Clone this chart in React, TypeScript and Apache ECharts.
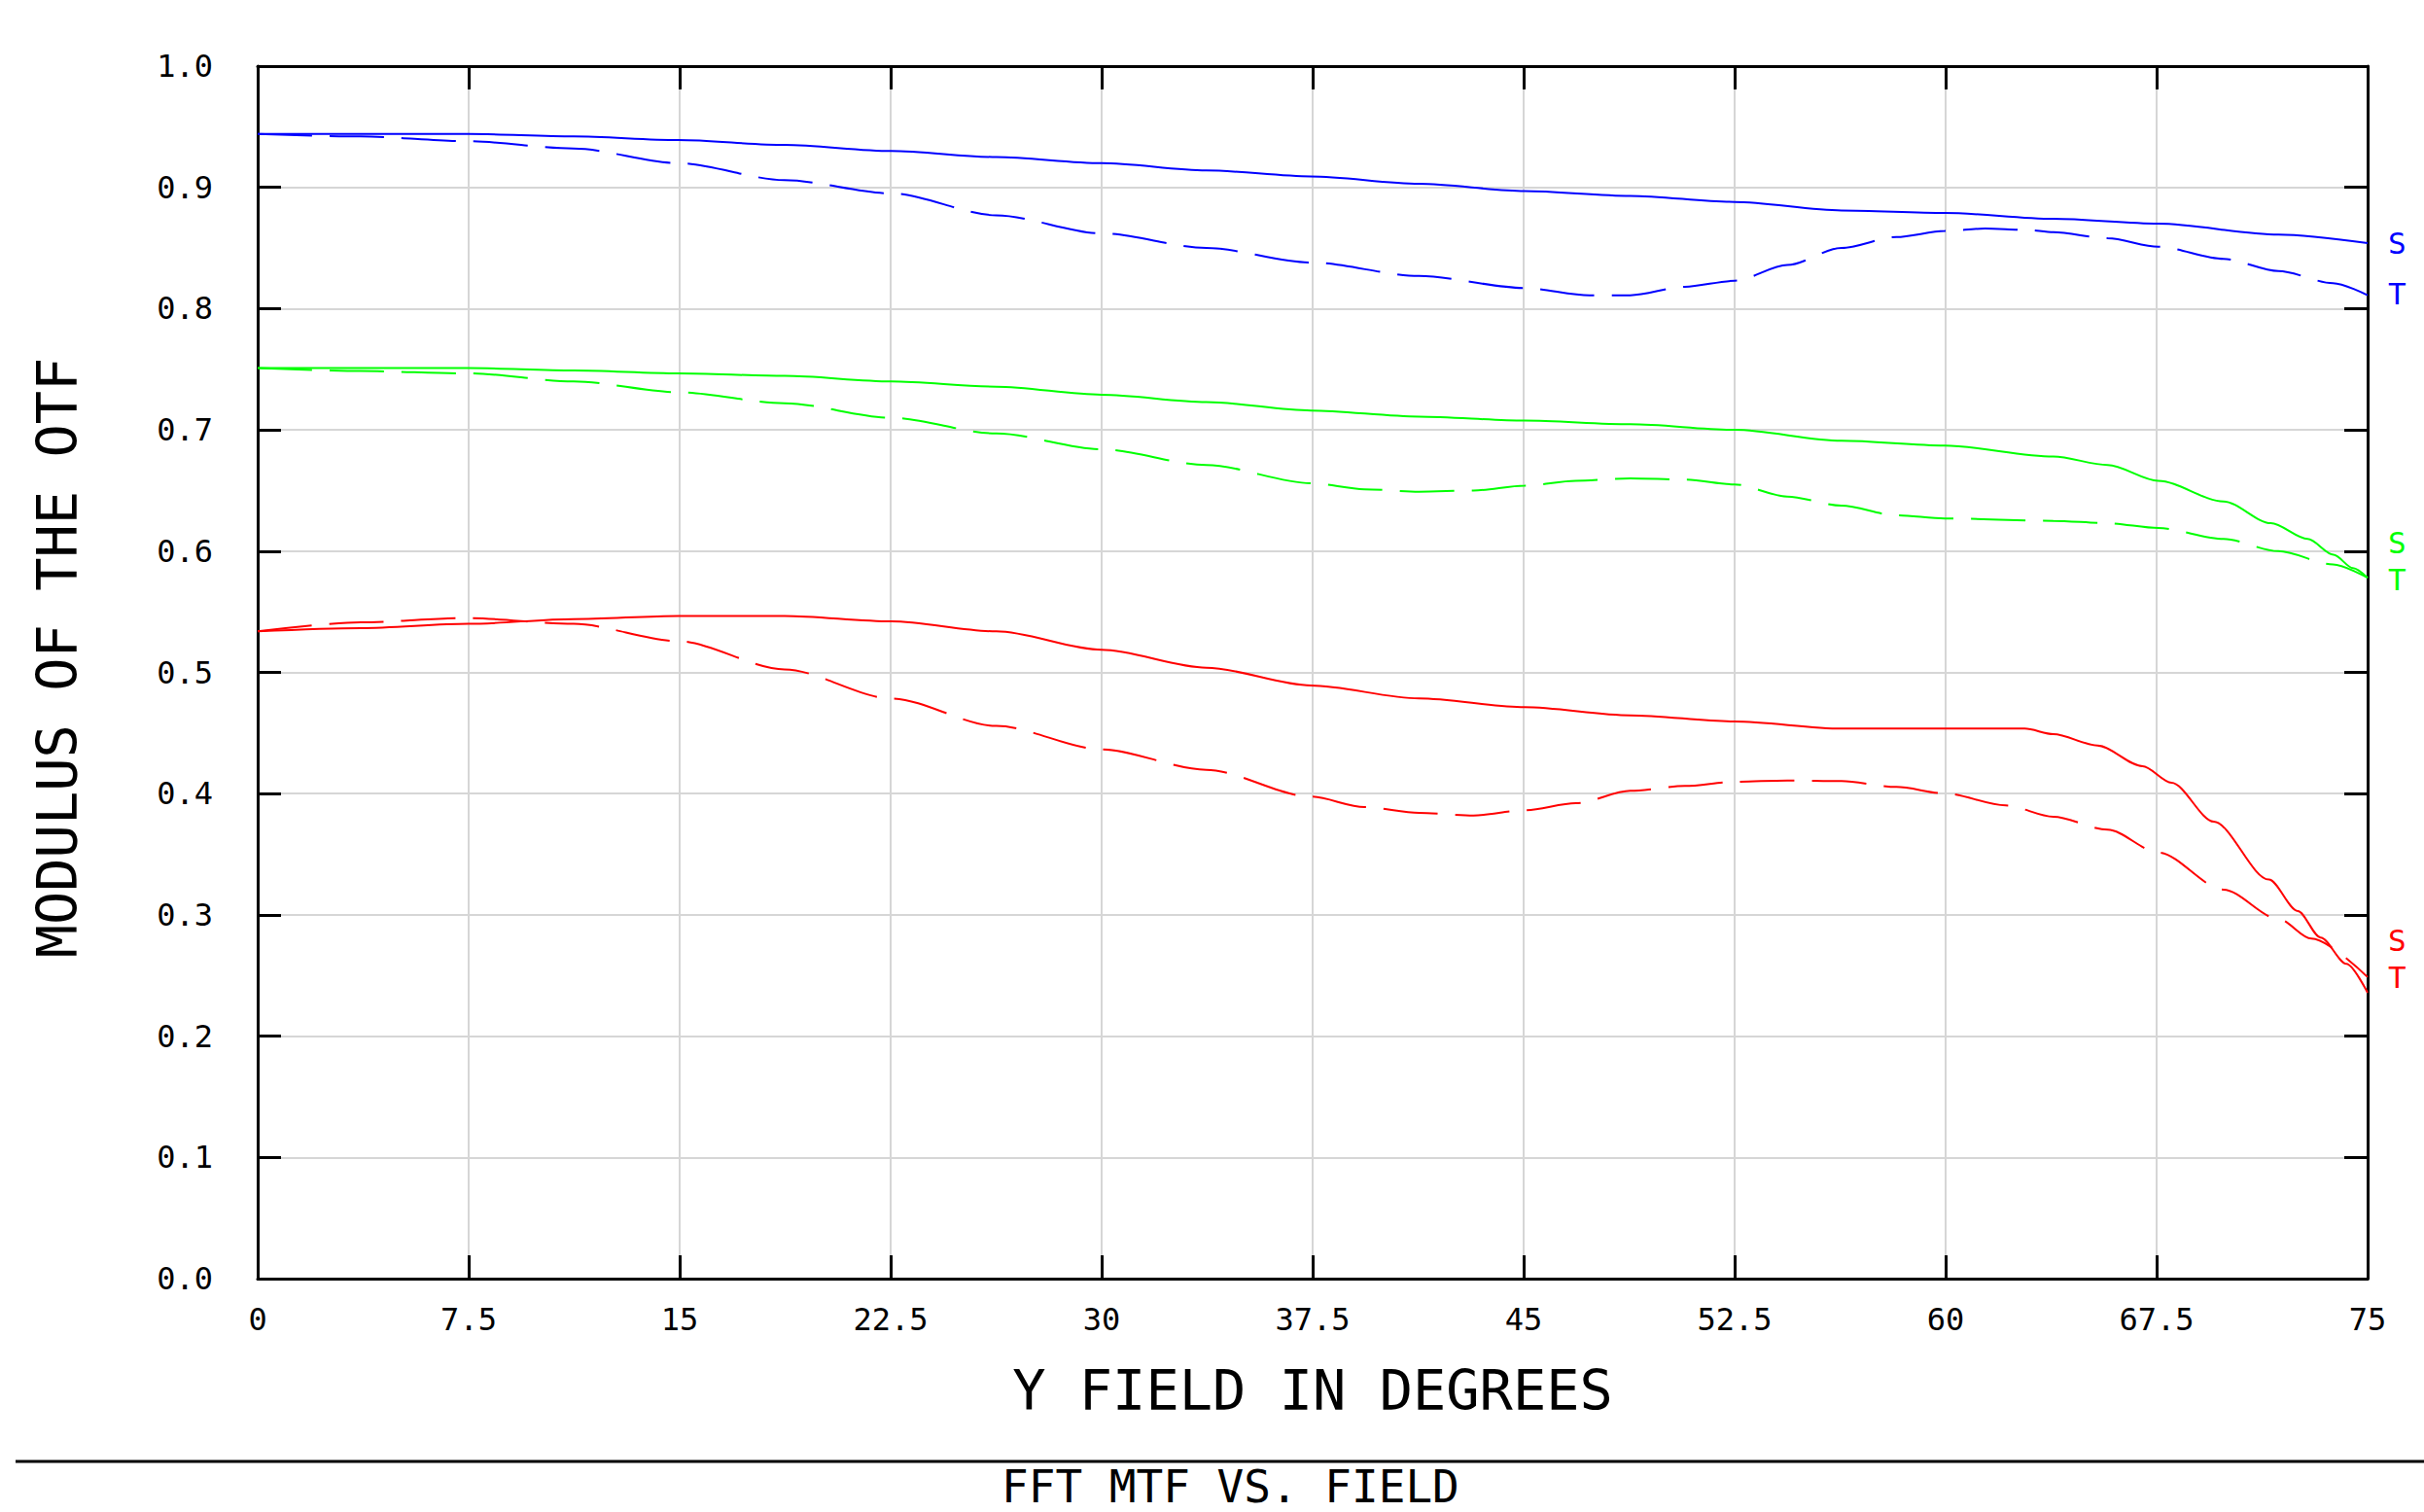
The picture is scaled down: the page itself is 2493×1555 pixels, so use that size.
import React, { useEffect, useRef } from "react";
import * as echarts from "echarts";

// ---- tick values ----
const xTicksMin = 0;
const xTicksMax = 75;
const xTickStep = 7.5;
const yTicksMin = 0;
const yTicksMax = 1;
const yTickStep = 0.1;

// ---- texts ----
const chartTitle = "FFT MTF VS. FIELD";
const xAxisTitle = "Y FIELD IN DEGREES";
const yAxisTitle = "MODULUS OF THE OTF";

// ---- blue (S solid, T dashed) ----
const blueSField = [0, 7.49, 11.23, 14.95, 18.73, 22.52, 26.26, 30.0, 33.72, 37.44, 41.28, 45.03, 48.79, 52.5, 56.3, 59.97, 63.83, 67.56, 71.83, 75];
const blueSValue = [0.944, 0.944, 0.942, 0.939, 0.935, 0.930, 0.925, 0.920, 0.914, 0.909, 0.903, 0.897, 0.893, 0.888, 0.881, 0.879, 0.874, 0.870, 0.861, 0.854];
const blueTField = [0, 3.66, 7.49, 11.23, 14.95, 18.73, 22.52, 26.26, 30.0, 33.72, 37.44, 41.28, 45.03, 47.34, 48.79, 50.73, 52.5, 54.37, 56.3, 58.25, 59.97, 61.4, 62.85, 63.83, 65.76, 67.56, 69.88, 71.83, 73.77, 75];
const blueTValue = [0.944, 0.942, 0.938, 0.932, 0.920, 0.906, 0.895, 0.877, 0.862, 0.850, 0.838, 0.827, 0.817, 0.811, 0.811, 0.818, 0.823, 0.836, 0.850, 0.859, 0.864, 0.866, 0.865, 0.863, 0.858, 0.851, 0.841, 0.831, 0.821, 0.811];

// ---- green (S solid, T dashed) ----
const greenSField = [0, 7.49, 11.23, 14.95, 18.73, 22.52, 26.26, 30.0, 33.72, 37.44, 41.28, 45.03, 48.79, 52.5, 56.3, 59.97, 63.83, 65.76, 67.56, 69.88, 71.56, 72.87, 73.79, 74.48, 75];
const greenSValue = [0.751, 0.751, 0.749, 0.7466, 0.7445, 0.740, 0.7356, 0.729, 0.723, 0.716, 0.711, 0.7076, 0.7046, 0.700, 0.691, 0.687, 0.678, 0.671, 0.658, 0.641, 0.623, 0.610, 0.597, 0.586, 0.578];
const greenTField = [0, 3.66, 7.49, 11.23, 14.95, 18.73, 22.52, 26.26, 30.0, 33.72, 37.44, 39.34, 41.28, 43.22, 45.03, 46.85, 48.79, 50.73, 52.5, 54.37, 56.3, 58.25, 59.97, 63.83, 65.76, 67.56, 69.88, 71.83, 73.77, 75];
const greenTValue = [0.751, 0.7485, 0.7466, 0.740, 0.731, 0.722, 0.710, 0.697, 0.684, 0.671, 0.656, 0.651, 0.649, 0.650, 0.654, 0.658, 0.660, 0.659, 0.655, 0.645, 0.6375, 0.6295, 0.627, 0.625, 0.623, 0.619, 0.610, 0.600, 0.589, 0.578];

// ---- red (S solid, T dashed) ----
const redSField = [0, 3.66, 7.49, 11.23, 14.95, 18.73, 22.52, 26.26, 30.0, 33.72, 37.44, 41.28, 45.03, 48.79, 52.5, 56.3, 59.97, 62.81, 63.83, 65.4, 67.0, 68.03, 69.53, 71.49, 72.52, 73.33, 74.25, 75];
const redSValue = [0.5338, 0.5365, 0.540, 0.544, 0.5466, 0.5466, 0.5421, 0.5338, 0.5186, 0.5039, 0.4892, 0.4785, 0.4713, 0.4646, 0.4595, 0.4536, 0.4536, 0.4536, 0.4491, 0.4397, 0.4226, 0.409, 0.3769, 0.3291, 0.3031, 0.2813, 0.2596, 0.2358];
const redTField = [0, 3.66, 7.49, 11.23, 14.95, 18.73, 22.52, 26.26, 30.0, 33.72, 37.44, 39.34, 41.28, 43.22, 45.03, 46.85, 48.79, 50.73, 52.5, 54.37, 56.3, 58.25, 59.97, 62.13, 63.83, 65.76, 67.56, 69.88, 71.83, 73.0, 75];
const redTValue = [0.5338, 0.5413, 0.5448, 0.540, 0.5258, 0.5025, 0.4785, 0.4558, 0.4365, 0.4197, 0.3975, 0.3889, 0.3841, 0.382, 0.3863, 0.3921, 0.4023, 0.4063, 0.4098, 0.4108, 0.4103, 0.4055, 0.4002, 0.3903, 0.3809, 0.3702, 0.3515, 0.3208, 0.2967, 0.2804, 0.2487];

const FONT = "DejaVu Sans Mono";
const BLUE = "#0000ff";
const GREEN = "#00ff00";
const RED = "#ff0000";

function pairs(xs: number[], ys: number[]) {
  return xs.map((x, i) => [x, ys[i]]);
}

function makeSeries(name: string, xs: number[], ys: number[], color: string, dashed: boolean, labelText: string, labelDy: number) {
  return {
    name,
    type: "line",
    xAxisIndex: 0,
    yAxisIndex: 0,
    data: pairs(xs, ys),
    showSymbol: false,
    symbol: "none",
    smooth: 0.3,
    smoothMonotone: "x",
    lineStyle: { color, width: 2, type: dashed ? [56, 18] : "solid" },
    itemStyle: { color },
    endLabel: {
      show: true,
      formatter: labelText,
      color,
      fontFamily: FONT,
      fontSize: 31,
      lineHeight: 31,
      distance: 21,
      offset: [0, labelDy],
    },
    z: 3,
  };
}

export default function App() {
  const ref = useRef<HTMLDivElement>(null);
  useEffect(() => {
    if (!ref.current) return;
    const chart = echarts.init(ref.current, undefined, { renderer: "svg" });
    const axisLineStyle = { color: "#000", width: 3 };
    const tick = { show: true, inside: true, length: 24, lineStyle: { color: "#000", width: 3 } };
    const option: any = {
      animation: false,
      backgroundColor: "#ffffff",
      title: {
        text: chartTitle,
        left: 1030,
        top: 1506,
        padding: 0,
        textStyle: { fontFamily: FONT, fontSize: 46, lineHeight: 46, fontWeight: "normal", color: "#000" },
      },
      grid: { left: 265, right: 58, top: 68, bottom: 240, containLabel: false },
      xAxis: [
        {
          type: "value",
          position: "bottom",
          min: xTicksMin,
          max: xTicksMax,
          interval: xTickStep,
          name: xAxisTitle,
          nameLocation: "middle",
          nameGap: 86,
          nameTextStyle: { fontFamily: FONT, fontSize: 57, color: "#000" },
          axisLine: { show: true, onZero: false, lineStyle: axisLineStyle },
          axisTick: tick,
          axisLabel: { show: true, margin: 26, fontFamily: FONT, fontSize: 32, color: "#000" },
          splitLine: { show: true, lineStyle: { color: "#d6d6d6", width: 2 } },
        },
        {
          type: "value",
          position: "top",
          min: xTicksMin,
          max: xTicksMax,
          interval: xTickStep,
          axisLine: { show: true, onZero: false, lineStyle: axisLineStyle },
          axisTick: tick,
          axisLabel: { show: false },
          splitLine: { show: false },
        },
      ],
      yAxis: [
        {
          type: "value",
          position: "left",
          min: yTicksMin,
          max: yTicksMax,
          interval: yTickStep,
          name: yAxisTitle,
          nameLocation: "middle",
          nameGap: 178,
          nameRotate: 90,
          nameTextStyle: { fontFamily: FONT, fontSize: 57, color: "#000", padding: [0, 0, 0, 30] },
          axisLine: { show: true, onZero: false, lineStyle: axisLineStyle },
          axisTick: tick,
          axisLabel: {
            show: true,
            margin: 46,
            fontFamily: FONT,
            fontSize: 32,
            color: "#000",
            formatter: (v: number) => v.toFixed(1),
          },
          splitLine: { show: true, lineStyle: { color: "#d6d6d6", width: 2 } },
        },
        {
          type: "value",
          position: "right",
          min: yTicksMin,
          max: yTicksMax,
          interval: yTickStep,
          axisLine: { show: true, onZero: false, lineStyle: axisLineStyle },
          axisTick: tick,
          axisLabel: { show: false },
          splitLine: { show: false },
        },
      ],
      graphic: [
        {
          type: "line",
          shape: { x1: 16, y1: 1503, x2: 2493, y2: 1503 },
          style: { stroke: "#000", lineWidth: 3 },
          silent: true,
        },
      ],
      series: [
        makeSeries("Blue S", blueSField, blueSValue, BLUE, false, "S", 0),
        makeSeries("Blue T", blueTField, blueTValue, BLUE, true, "T", -2),
        makeSeries("Green S", greenSField, greenSValue, GREEN, false, "S", -36),
        makeSeries("Green T", greenTField, greenTValue, GREEN, true, "T", 2),
        makeSeries("Red S", redSField, redSValue, RED, false, "S", -54),
        makeSeries("Red T", redTField, redTValue, RED, true, "T", 0),
      ],
    };
    chart.setOption(option);
    return () => chart.dispose();
  }, []);
  return (
    <div
      ref={ref}
      style={{ position: "fixed", left: 0, top: 0, width: 2493, height: 1555, background: "#fff" }}
    />
  );
}
